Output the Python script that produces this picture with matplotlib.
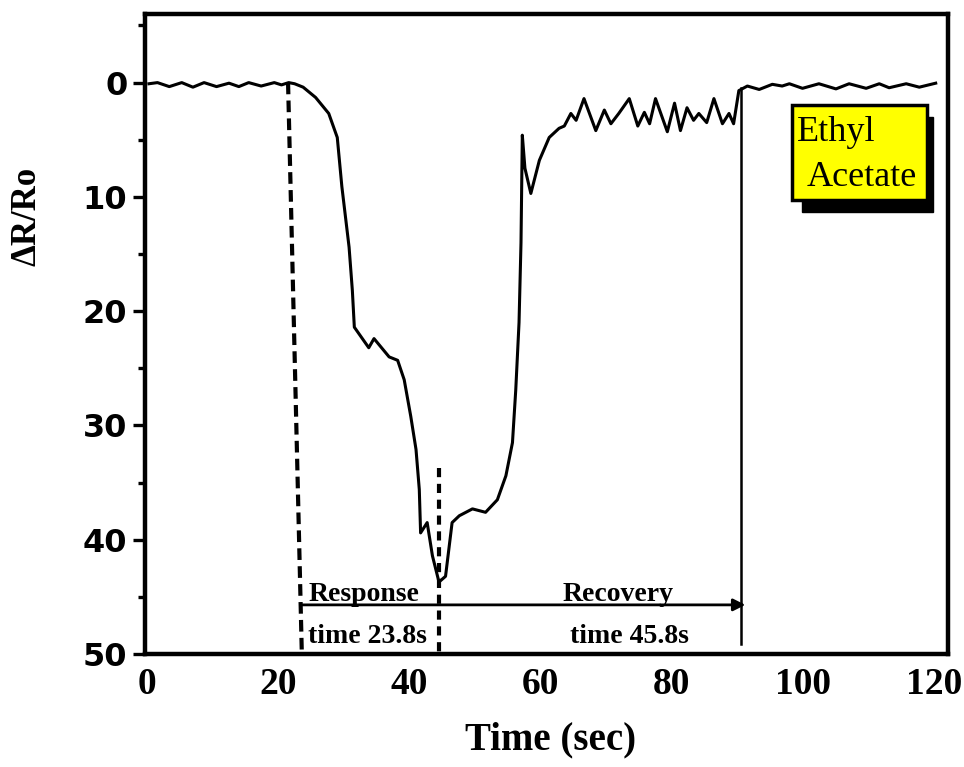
import matplotlib
matplotlib.use("Agg")
import matplotlib.pyplot as plt
from matplotlib.ticker import MultipleLocator
from matplotlib.patches import Rectangle

# sensor response curve (time in s, dR/Ro)
time_s = [0.3, 1.6, 3.4, 5.3, 7.0, 8.7, 10.6, 12.5, 14.0, 15.5, 17.4, 19.4, 20.5, 21.6,
          22.5, 23.8, 25.7, 27.7, 29.0, 29.7, 30.8, 31.3, 31.6, 33.8, 34.6, 36.9, 38.2,
          39.2, 40.2, 41.0, 41.5, 41.7, 42.7, 43.5, 44.5, 45.5, 46.5, 47.6, 49.6, 51.6,
          53.4, 54.7, 55.7, 56.2, 56.7, 57.0, 57.2, 57.6, 58.5, 59.8, 61.3, 62.8, 63.6,
          64.6, 65.4, 66.6, 68.4, 69.7, 70.7, 71.9, 73.5, 74.8, 75.8, 76.6, 77.5, 79.3,
          80.4, 81.3, 82.3, 83.3, 84.1, 85.3, 86.4, 87.7, 88.7, 89.4, 90.2, 91.5, 93.3,
          95.3, 96.8, 97.9, 99.9, 102.4, 105.0, 107.0, 109.6, 111.6, 113.1, 115.7, 117.7,
          120.2]
response = [0.1, 0.0, 0.35, 0.0, 0.4, 0.0, 0.35, 0.05, 0.35, 0.0, 0.3, 0.0, 0.2, 0.0,
            0.1, 0.4, 1.3, 2.7, 4.8, 9.1, 14.4, 18.2, 21.4, 23.2, 22.4, 24.0, 24.3,
            26.0, 29.2, 32.1, 35.6, 39.4, 38.5, 41.4, 43.7, 43.2, 38.5, 37.9, 37.3, 37.6,
            36.5, 34.4, 31.5, 26.9, 21.0, 14.0, 4.6, 7.5, 9.7, 6.8, 4.8, 4.0, 3.8,
            2.7, 3.3, 1.4, 4.2, 2.4, 3.6, 2.7, 1.4, 3.8, 2.6, 3.6, 1.4, 4.3,
            1.8, 4.2, 2.2, 3.3, 2.7, 3.5, 1.4, 3.6, 2.7, 3.6, 0.7, 0.3, 0.6,
            0.15, 0.3, 0.1, 0.5, 0.1, 0.55, 0.1, 0.5, 0.1, 0.45, 0.1, 0.4,
            0.05]

x_ticks = [0, 20, 40, 60, 80, 100, 120]
y_ticks = [0, 10, 20, 30, 40, 50]

serif = "Liberation Serif"

fig = plt.figure(figsize=(9.64, 7.67), dpi=100)
ax = fig.add_axes([0.1509, 0.1473, 0.832, 0.8344])

ax.plot(time_s, response, color="k", lw=2.2)

# response / recovery markers
ax.plot([21.5, 23.6], [0, 50], color="k", lw=3, ls=(0, (2.8, 1.5)))
ax.plot([44.5, 44.5], [33.7, 49.8], color="k", lw=3, ls=(0, (2.2, 1.6)))
ax.plot([90.6, 90.6], [0.5, 49.1], color="k", lw=1.8)
ax.annotate("", xy=(91.2, 45.7), xytext=(23.4, 45.7),
            arrowprops=dict(arrowstyle="-|>", color="k", lw=2, mutation_scale=18,
                            shrinkA=0, shrinkB=0))
ax.text(33.1, 44.8, "Response", family=serif, weight="bold", fontsize=20,
        ha="center", va="center")
ax.text(33.6, 48.5, "time 23.8s", family=serif, weight="bold", fontsize=20,
        ha="center", va="center")
ax.text(71.8, 44.8, "Recovery", family=serif, weight="bold", fontsize=20,
        ha="center", va="center")
ax.text(73.5, 48.5, "time 45.8s", family=serif, weight="bold", fontsize=20,
        ha="center", va="center")

# yellow label box with shadow
ax.add_patch(Rectangle((99.8, 3.0), 20.0, 8.3, facecolor="k", edgecolor="k", zorder=3))
ax.add_patch(Rectangle((98.3, 2.0), 20.5, 8.3, facecolor="#ffff00", edgecolor="k",
                       lw=2.5, zorder=4))
ax.text(99.0, 4.4, "Ethyl", family=serif, fontsize=26, ha="left", va="center", zorder=5)
ax.text(100.5, 8.3, "Acetate", family=serif, fontsize=26, ha="left", va="center", zorder=5)

ax.set_xlim(-0.23, 122)
ax.set_ylim(50, -6)
ax.set_xticks(x_ticks)
ax.set_yticks(y_ticks)
ax.yaxis.set_minor_locator(MultipleLocator(5))

for s in ax.spines.values():
    s.set_linewidth(3.2)

ax.tick_params(axis="x", length=0, pad=9)
ax.tick_params(axis="y", which="major", direction="out", length=9, width=2.4, pad=4)
ax.tick_params(axis="y", which="minor", direction="out", length=5, width=2.4)
for lab in ax.get_xticklabels():
    lab.set_fontfamily(serif)
    lab.set_fontweight("bold")
    lab.set_fontsize(27)
for lab in ax.get_yticklabels():
    lab.set_fontfamily("DejaVu Sans")
    lab.set_fontweight("bold")
    lab.set_fontsize(23)

ax.set_xlabel("Time (sec)", family=serif, weight="bold", fontsize=28)
ax.xaxis.set_label_coords(0.505, -0.106)
ax.set_ylabel("ΔR/Ro", family=serif, weight="bold", fontsize=25)
ax.yaxis.set_label_coords(-0.127, 0.684)

fig.savefig("out.png", dpi=100)
